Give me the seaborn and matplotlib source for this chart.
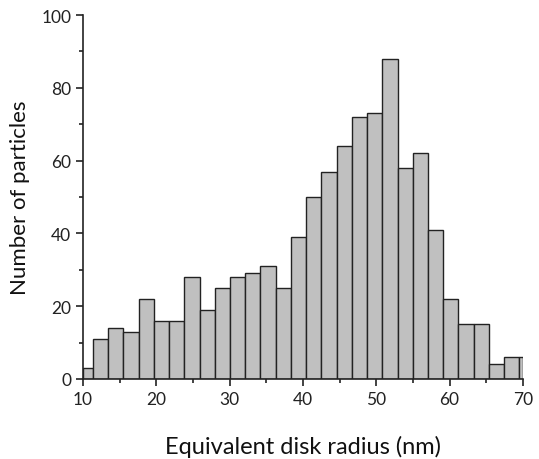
import matplotlib
matplotlib.use("Agg")
import matplotlib.pyplot as plt
from matplotlib.ticker import MultipleLocator
import seaborn as sns
import numpy as np

# Histogram data (counts per bin)
bin_edges = [10.0] + [round(11.35 + k * 2.078, 3) for k in range(29)] + [70.0]
counts = [3, 11, 14, 13, 22, 16, 16, 28, 19, 25, 28, 29, 31, 25, 39,
          50, 57, 64, 72, 73, 88, 58, 62, 41, 22, 15, 15, 4, 6, 6]
x_label = "Equivalent disk radius (nm)"
y_label = "Number of particles"
x_ticks = [10, 20, 30, 40, 50, 60, 70]
y_ticks = [0, 20, 40, 60, 80, 100]

sns.set_style("ticks")
plt.rcParams['font.family'] = ['Lato', 'DejaVu Sans']

centers = [(a + b) / 2 for a, b in zip(bin_edges[:-1], bin_edges[1:])]

fig = plt.figure(figsize=(5.39, 4.60), dpi=100)
ax = fig.add_axes([0.154, 0.174, 0.816, 0.791])

sns.histplot(x=centers, weights=counts, bins=bin_edges, ax=ax,
             color="#c0c0c0", edgecolor="#222222", linewidth=1.0, alpha=1.0)

ax.set_xlim(10, 70)
ax.set_ylim(0, 100)
ax.set_xticks(x_ticks)
ax.set_yticks(y_ticks)
ax.xaxis.set_minor_locator(MultipleLocator(5))
ax.yaxis.set_minor_locator(MultipleLocator(10))
ax.tick_params(which='major', direction='out', length=5, width=1.2,
               labelsize=12.5, colors='#222222')
ax.tick_params(which='minor', direction='out', length=3, width=1.2,
               colors='#222222')
for s in ['top', 'right']:
    ax.spines[s].set_visible(False)
for s in ['left', 'bottom']:
    ax.spines[s].set_linewidth(1.2)
    ax.spines[s].set_color('#222222')

ax.set_xlabel(x_label, fontsize=17, labelpad=20, color='#111111')
ax.set_ylabel(y_label, fontsize=16, labelpad=8, color='#111111')

fig.savefig("out.png", dpi=100)
